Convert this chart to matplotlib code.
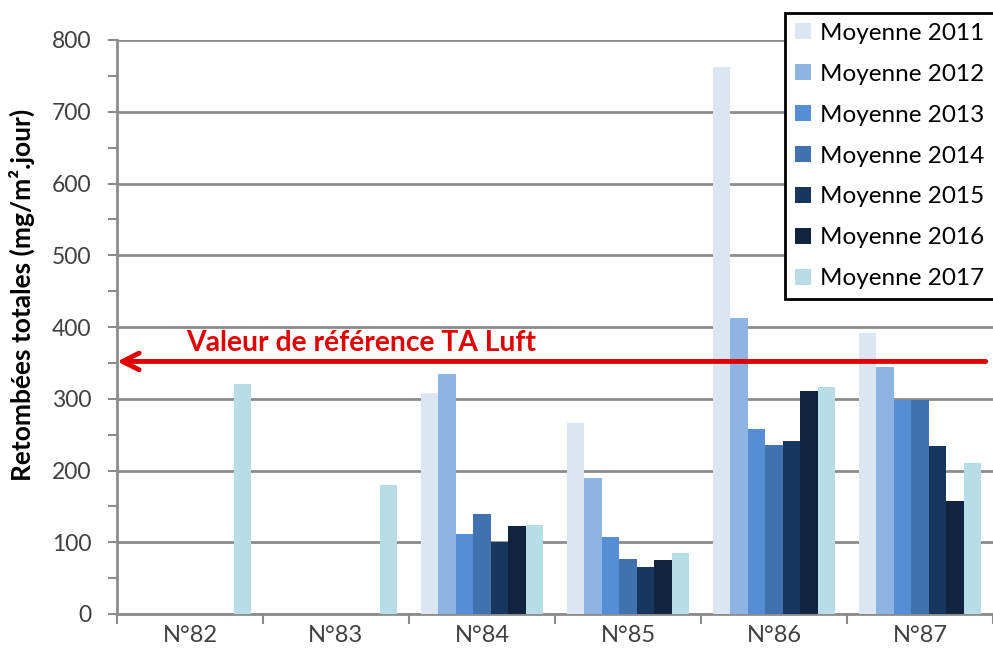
import matplotlib.pyplot as plt
import numpy as np

# --- Data ---
categories = ["N°82", "N°83", "N°84", "N°85", "N°86", "N°87"]
series_labels = ["Moyenne 2011", "Moyenne 2012", "Moyenne 2013", "Moyenne 2014",
                 "Moyenne 2015", "Moyenne 2016", "Moyenne 2017"]
nan = np.nan
moy_2011 = [nan, nan, 308, 266, 762, 391]
moy_2012 = [nan, nan, 335, 189, 413, 344]
moy_2013 = [nan, nan, 111, 107, 258, 298]
moy_2014 = [nan, nan, 140, 77, 236, 298]
moy_2015 = [nan, nan, 101, 66, 241, 234]
moy_2016 = [nan, nan, 122, 75, 311, 158]
moy_2017 = [320, 180, 124, 85, 316, 211]
ref_value = 352  # TA Luft reference
ref_label = "Valeur de référence TA Luft"

all_series = [moy_2011, moy_2012, moy_2013, moy_2014, moy_2015, moy_2016, moy_2017]
colors = ["#DCE6F2", "#8EB4E3", "#558ED5", "#3F72AF", "#17375E", "#10243F", "#B7DEE8"]

plt.rcParams['font.family'] = ['Lato', 'DejaVu Sans']

fig = plt.figure(figsize=(9.93, 6.64), dpi=100)
ax = fig.add_axes([117 / 993, 1 - 614 / 664, 1 - 117 / 993, (614 - 40) / 664])

x = np.arange(len(categories))
w = 0.12
for j, (vals, lab, col) in enumerate(zip(all_series, series_labels, colors)):
    ax.bar(x + (j - 3) * w, vals, width=w, color=col, label=lab, zorder=3)

# axes styling
grid_col = "#8C8C8C"
ax.set_ylim(0, 800)
ax.set_xlim(-0.5, len(categories) - 0.5)
ax.set_yticks(np.arange(0, 801, 100))
ax.set_yticks(np.arange(50, 800, 100), minor=True)
ax.yaxis.grid(True, color=grid_col, linewidth=2, zorder=0)
ax.set_axisbelow(True)
for s in ["top", "right"]:
    ax.spines[s].set_visible(False)
for s in ["left", "bottom"]:
    ax.spines[s].set_color(grid_col)
    ax.spines[s].set_linewidth(2)
ax.tick_params(axis='y', which='both', direction='out', length=6.5, width=1.5,
               color=grid_col, labelsize=16.5, labelcolor="#404040", pad=12)

# categories between boundary ticks
ax.set_xticks(np.arange(-0.5, len(categories)), minor=False)
ax.set_xticklabels([])
ax.set_xticks(x, minor=True)
ax.set_xticklabels(categories, minor=True)
ax.tick_params(axis='x', which='major', direction='out', length=7, width=1.5, color=grid_col)
ax.tick_params(axis='x', which='minor', length=0, labelsize=17, labelcolor="#404040", pad=8)

ax.set_ylabel("Retombées totales (mg/m².jour)", fontsize=19, fontweight='bold')
ax.yaxis.set_label_coords(-0.094, 0.556)

# reference line with arrow
ax.annotate("", xy=(-0.5, ref_value), xytext=(5.45, ref_value),
            arrowprops=dict(arrowstyle="->", color="#E00000", lw=3.5,
                            mutation_scale=30, shrinkA=0, shrinkB=0), zorder=5)
ax.text(1.17, ref_value + 8, ref_label, color="#E00000", fontsize=20.3,
        fontweight='bold', ha='center', va='bottom', zorder=5)

leg = ax.legend(loc='upper left', bbox_to_anchor=(785 / 993, 1 - 13 / 664),
                bbox_transform=fig.transFigure, borderaxespad=0, fontsize=17.5,
                frameon=True, fancybox=False, framealpha=1, edgecolor='black',
                handlelength=0.66, handleheight=0.66, handletextpad=0.4,
                labelspacing=0.82, borderpad=0.4)
leg.get_frame().set_linewidth(2)
leg.set_zorder(10)

fig.savefig("out.png", dpi=100)
